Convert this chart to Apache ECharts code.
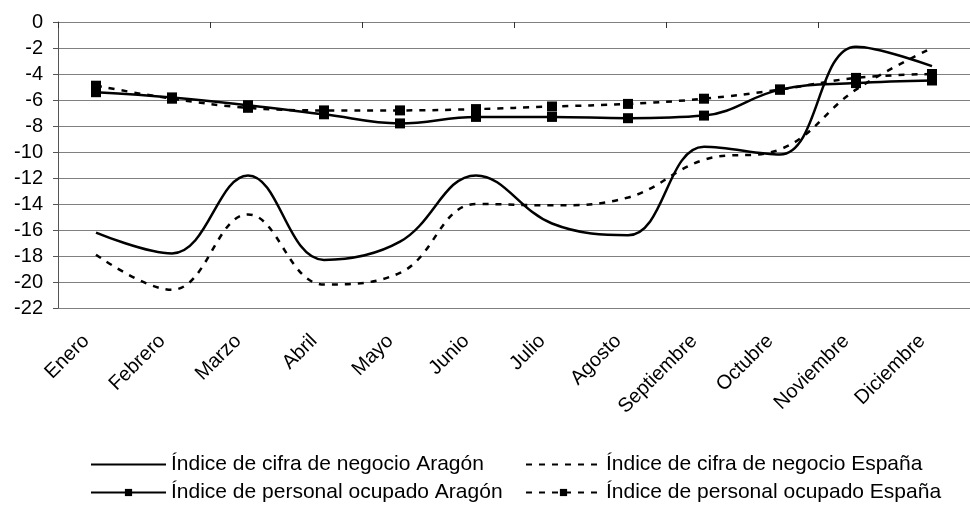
<!DOCTYPE html>
<html>
<head>
<meta charset="utf-8">
<script src="https://cdn.jsdelivr.net/npm/echarts@6/dist/echarts.min.js"></script>
<style>html,body{margin:0;padding:0;background:#fff;}#c{width:970px;height:511px;}</style>
</head>
<body>
<div id="c"></div>
<script>
const months = ['Enero','Febrero','Marzo','Abril','Mayo','Junio','Julio','Agosto','Septiembre','Octubre','Noviembre','Diciembre'];
const cifraAragon = [-16.2, -17.8, -11.8, -18.3, -16.9, -11.8, -15.5, -16.4, -9.6, -10.2, -1.9, -3.4];
const cifraEspana = [-17.9, -20.6, -14.8, -20.2, -19.3, -14.0, -14.1, -13.5, -10.6, -9.8, -5.2, -2.0];
const personalAragon = [-5.4, -5.8, -6.4, -7.1, -7.8, -7.3, -7.3, -7.4, -7.2, -5.2, -4.7, -4.5];
const personalEspana = [-4.9, -5.9, -6.6, -6.8, -6.8, -6.7, -6.5, -6.3, -5.9, -5.2, -4.3, -4.0];
const names = ['Índice de cifra de negocio Aragón','Índice de cifra de negocio España','Índice de personal ocupado Aragón','Índice de personal ocupado España'];

const FONT = 'Liberation Sans, Arial, sans-serif';
const chart = echarts.init(document.getElementById('c'), null, {renderer:'canvas'});
function legendAt(name, left, top, hideSymbol){
  const l = {data:[name], left:left, top:top, padding:0, itemWidth:75, itemHeight:9,
    textStyle:{fontFamily:FONT, fontSize:21, color:'#000'}, selectedMode:false};
  if (hideSymbol) l.itemStyle = {opacity:0};
  return l;
}
const dashed = [6,7];
chart.setOption({
  animation:false,
  backgroundColor:'#fff',
  grid:{left:58, top:22, right:-8, bottom:203, containLabel:false},
  legend:[
    legendAt(names[0], 90, 454, true),
    legendAt(names[1], 525, 454, true),
    legendAt(names[2], 90, 482, false),
    legendAt(names[3], 525, 482, false)
  ],
  xAxis:[{
    type:'category', data:months, position:'bottom', boundaryGap:true,
    axisLine:{show:false}, axisTick:{show:false},
    axisLabel:{rotate:45, margin:20, interval:0, fontFamily:FONT, fontSize:20, color:'#000', padding:[0,14,0,0]}
  },{
    type:'category', data:months, position:'top', boundaryGap:true,
    axisLine:{show:true, lineStyle:{color:'#808080', width:1}},
    axisTick:{show:true, inside:true, length:6, lineStyle:{color:'#333'}},
    axisLabel:{show:false}
  }],
  yAxis:{
    type:'value', min:-22, max:0, interval:2,
    axisLine:{show:true, onZero:false, lineStyle:{color:'#555', width:1}},
    axisTick:{show:true, length:5, lineStyle:{color:'#555'}},
    axisLabel:{fontFamily:FONT, fontSize:20, color:'#000', margin:15},
    splitLine:{show:true, lineStyle:{color:'#808080', width:1}}
  },
  series:[
    {name:names[0], type:'line', data:cifraAragon, smooth:0.4, symbol:'none',
      lineStyle:{color:'#000', width:2.5}, itemStyle:{color:'#000'}},
    {name:names[1], type:'line', data:cifraEspana, smooth:0.4, symbol:'none',
      lineStyle:{color:'#000', width:2.5, type:dashed}, itemStyle:{color:'#000'}},
    {name:names[2], type:'line', data:personalAragon, smooth:0.4, symbol:'rect', symbolSize:10,
      lineStyle:{color:'#000', width:2.5}, itemStyle:{color:'#000'}},
    {name:names[3], type:'line', data:personalEspana, smooth:0.4, symbol:'rect', symbolSize:10,
      lineStyle:{color:'#000', width:2.5, type:dashed}, itemStyle:{color:'#000'}}
  ]
});
</script>
</body>
</html>
